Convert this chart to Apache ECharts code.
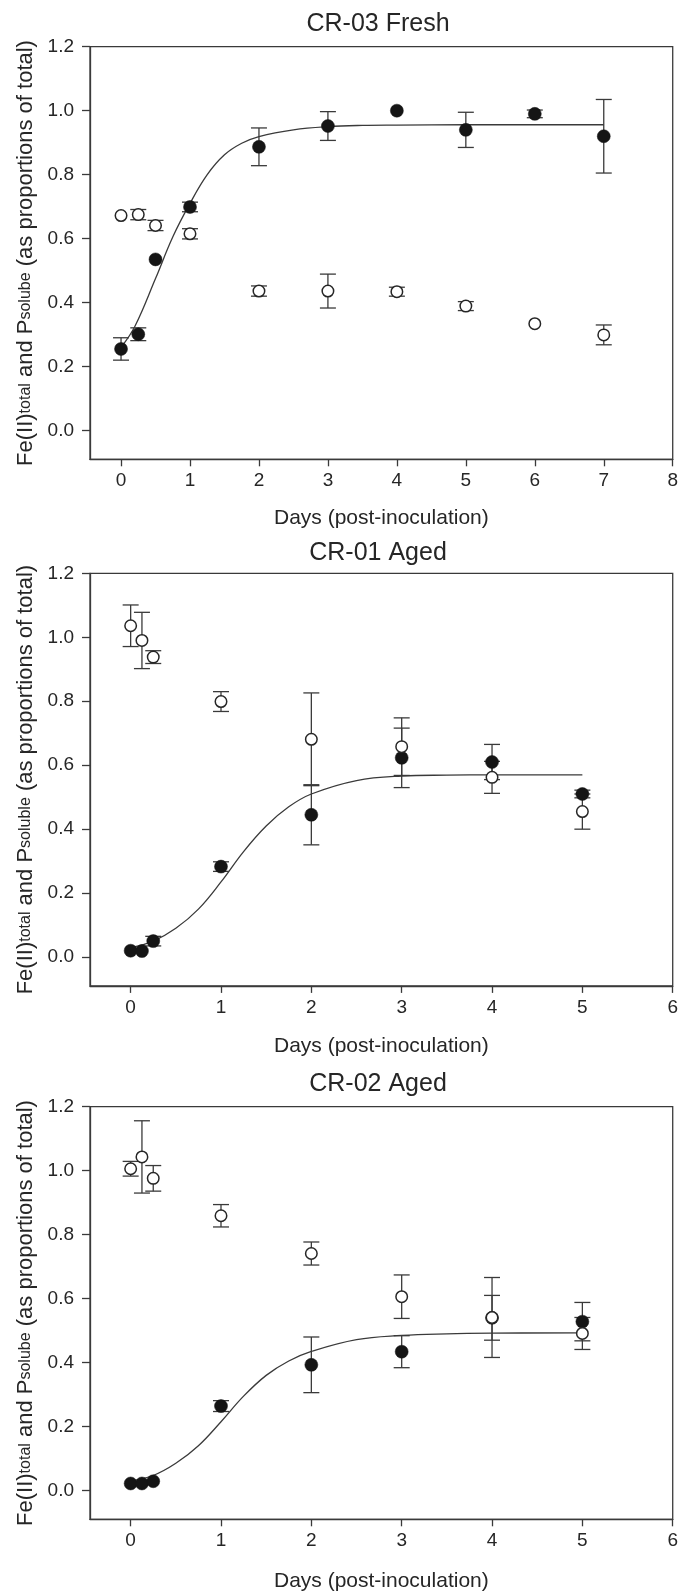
<!DOCTYPE html>
<html><head><meta charset="utf-8">
<script src="https://cdn.jsdelivr.net/npm/echarts@6/dist/echarts.min.js"></script>
<style>html,body{margin:0;padding:0;background:#fff}#c{width:681px;height:1594px}</style>
</head><body><div id="c"></div>
<script>
// ---------- data ----------
const titles = ['CR-03 Fresh', 'CR-01 Aged', 'CR-02 Aged'];
const subP = ['solube', 'soluble', 'solube'];
const xTitle = 'Days (post-inoculation)';
const xTicks1 = [0, 1, 2, 3, 4, 5, 6, 7, 8];
const xTicks23 = [0, 1, 2, 3, 4, 5, 6];
const yTicks = [0, 0.2, 0.4, 0.6, 0.8, 1.0, 1.2];

// Panel 1: CR-03 Fresh
const days1 = [0, 0.25, 0.5, 1, 2, 3, 4, 5, 6, 7];
const fe1 = [0.255, 0.301, 0.535, 0.699, 0.887, 0.952, 1.0, 0.94, 0.99, 0.92];
const fe1Err = [0.035, 0.02, 0, 0.015, 0.059, 0.045, 0, 0.055, 0.012, 0.115];
const p1 = [0.672, 0.675, 0.641, 0.615, 0.436, 0.436, 0.434, 0.389, 0.334, 0.299];
const p1Err = [0, 0.016, 0.016, 0.016, 0.016, 0.053, 0.014, 0.014, 0, 0.031];
const fit1X = [0, 0.2, 0.5, 0.75, 1, 1.25, 1.5, 1.75, 2, 2.5, 3, 3.5, 4, 5, 6, 7];
const fit1Y = [0.26, 0.325, 0.475, 0.605, 0.71, 0.8, 0.862, 0.898, 0.919, 0.94, 0.95, 0.954, 0.955, 0.956, 0.956, 0.956];

// Panel 2: CR-01 Aged
const days2 = [0, 0.125, 0.25, 1, 2, 3, 4, 5];
const fe2 = [0.02, 0.019, 0.05, 0.283, 0.445, 0.623, 0.61, 0.51];
const fe2Err = [0, 0, 0.015, 0.015, 0.094, 0.093, 0.055, 0.012];
const p2 = [1.036, 0.99, 0.938, 0.799, 0.681, 0.658, 0.562, 0.455];
const p2Err = [0.065, 0.088, 0.02, 0.031, 0.145, 0.09, 0.05, 0.055];
const fit2X = [0, 0.25, 0.5, 0.75, 1, 1.25, 1.5, 1.75, 2, 2.5, 3, 3.5, 4, 5];
const fit2Y = [0.03, 0.05, 0.09, 0.15, 0.235, 0.33, 0.41, 0.47, 0.51, 0.552, 0.566, 0.569, 0.57, 0.57];

// Panel 3: CR-02 Aged
const days3 = [0, 0.125, 0.25, 1, 2, 3, 4, 5];
const fe3 = [0.022, 0.022, 0.029, 0.264, 0.393, 0.434, 0.54, 0.528];
const fe3Err = [0, 0, 0, 0.017, 0.087, 0.05, 0.07, 0.06];
const p3 = [1.006, 1.043, 0.976, 0.859, 0.741, 0.606, 0.541, 0.491];
const p3Err = [0.023, 0.113, 0.04, 0.035, 0.036, 0.068, 0.125, 0.05];
const fit3X = [0, 0.25, 0.5, 0.75, 1, 1.25, 1.5, 1.75, 2, 2.5, 3, 3.5, 4, 5];
const fit3Y = [0.03, 0.047, 0.085, 0.14, 0.215, 0.295, 0.36, 0.405, 0.435, 0.472, 0.485, 0.49, 0.492, 0.493];

// ---------- chart ----------
const FONT = '"Liberation Sans", Arial, sans-serif';
const INK = '#262626';
const LINE = '#3a3a3a';
const panels = [
  {days: days1, fe: fe1, feErr: fe1Err, p: p1, pErr: p1Err, fx: fit1X, fy: fit1Y, xmax: 8, xt: xTicks1, top: 46.7, gap: 48},
  {days: days2, fe: fe2, feErr: fe2Err, p: p2, pErr: p2Err, fx: fit2X, fy: fit2Y, xmax: 6, xt: xTicks23, top: 573.3, gap: 50},
  {days: days3, fe: fe3, feErr: fe3Err, p: p3, pErr: p3Err, fx: fit3X, fy: fit3Y, xmax: 6, xt: xTicks23, top: 1106.7, gap: 51}
];
const GL = 90, GW = 584, GH = 412.6;

function errRender(params, api) {
  const x = api.value(0), y = api.value(1), e = api.value(2);
  if (!e) return null;
  const t = api.coord([x, y + e]), b = api.coord([x, y - e]);
  const hw = 8;
  const st = {stroke: LINE, lineWidth: 1.3};
  return {type: 'group', children: [
    {type: 'line', shape: {x1: t[0], y1: t[1], x2: b[0], y2: b[1]}, style: st},
    {type: 'line', shape: {x1: t[0] - hw, y1: t[1], x2: t[0] + hw, y2: t[1]}, style: st},
    {type: 'line', shape: {x1: b[0] - hw, y1: b[1], x2: b[0] + hw, y2: b[1]}, style: st}
  ]};
}

const grid = [], xAxis = [], yAxis = [], series = [], graphic = [];
panels.forEach((P, i) => {
  grid.push({left: GL, top: P.top, width: GW, height: GH, show: true, borderColor: LINE, borderWidth: 1.3, backgroundColor: 'transparent'});
  xAxis.push({
    type: 'value', gridIndex: i, min: -0.45, max: P.xmax,
    name: xTitle, nameLocation: 'middle', nameGap: P.gap,
    nameTextStyle: {fontSize: 21, fontFamily: FONT, color: INK},
    axisLine: {onZero: false, lineStyle: {color: LINE, width: 1.3}},
    axisTick: {show: true, length: 7, lineStyle: {color: LINE, width: 1.3}, customValues: P.xt},
    axisLabel: {fontSize: 19, fontFamily: FONT, color: INK, margin: 12, customValues: P.xt, formatter: v => String(v)},
    splitLine: {show: false}
  });
  yAxis.push({
    type: 'value', gridIndex: i, min: -0.09, max: 1.2,
    name: '{m|Fe(II)}{s|total}{m| and P}{s|' + subP[i] + '}{m| (as proportions of total)}',
    nameLocation: 'middle', nameRotate: 90, nameGap: 52,
    nameTextStyle: {
      fontFamily: FONT, color: INK,
      rich: {
        m: {fontSize: 22, fontFamily: FONT, color: INK},
        s: {fontSize: 16, fontFamily: FONT, color: INK, lineHeight: 9}
      }
    },
    axisLine: {onZero: false, lineStyle: {color: LINE, width: 1.3}},
    axisTick: {show: true, length: 8, lineStyle: {color: LINE, width: 1.3}, customValues: yTicks},
    axisLabel: {fontSize: 19, fontFamily: FONT, color: INK, margin: 16, customValues: yTicks, formatter: v => v.toFixed(1)},
    splitLine: {show: false}
  });
  series.push({
    type: 'custom', xAxisIndex: i, yAxisIndex: i, renderItem: errRender, z: 2,
    encode: {x: 0, y: 1},
    data: P.days.map((d, k) => [d, P.fe[k], P.feErr[k]])
  });
  series.push({
    type: 'custom', xAxisIndex: i, yAxisIndex: i, renderItem: errRender, z: 2,
    encode: {x: 0, y: 1},
    data: P.days.map((d, k) => [d, P.p[k], P.pErr[k]])
  });
  series.push({
    type: 'line', xAxisIndex: i, yAxisIndex: i, smooth: 0.4, showSymbol: false, z: 3,
    lineStyle: {color: LINE, width: 1.3},
    data: P.fx.map((x, k) => [x, P.fy[k]])
  });
  series.push({
    type: 'scatter', xAxisIndex: i, yAxisIndex: i, symbol: 'circle', symbolSize: 13, z: 4,
    itemStyle: {color: '#151515', borderColor: '#151515', borderWidth: 0.5, opacity: 1},
    data: P.days.map((d, k) => [d, P.fe[k]])
  });
  series.push({
    type: 'scatter', xAxisIndex: i, yAxisIndex: i, symbol: 'circle', symbolSize: 11.5, z: 5,
    itemStyle: {color: '#ffffff', borderColor: '#262626', borderWidth: 1.5, opacity: 1},
    data: P.days.map((d, k) => [d, P.p[k]])
  });
  graphic.push({
    type: 'text', x: 378, y: [24, 553, 1084][i],
    style: {text: titles[i], fontSize: 25, fontFamily: FONT, fill: INK, textAlign: 'center', textVerticalAlign: 'middle'}
  });
});

const chart = echarts.init(document.getElementById('c'), null, {renderer: 'canvas'});
chart.setOption({animation: false, backgroundColor: '#ffffff', grid, xAxis, yAxis, series, graphic});
</script>
</body></html>
